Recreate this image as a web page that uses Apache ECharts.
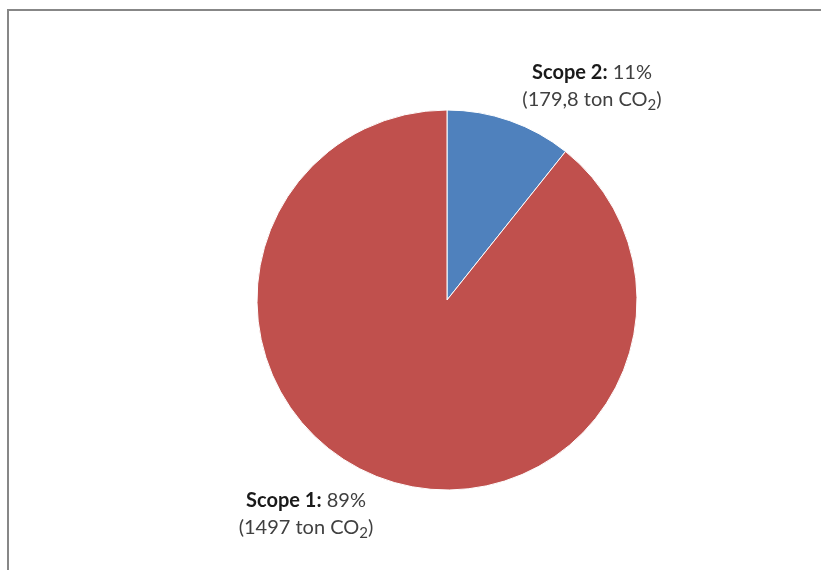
<!DOCTYPE html>
<html><head><meta charset="utf-8">
<script src="https://cdn.jsdelivr.net/npm/echarts@6/dist/echarts.min.js"></script>
<style>html,body{margin:0;padding:0;background:#fff}#c{width:821px;height:570px}</style>
</head><body><div id="c"></div>
<script>
const categories = ['Scope 2', 'Scope 1'];
const values = [179.8, 1497];
const colors = ['#4F81BD', '#C0504D'];
const labelPos = [[592, 86], [306, 514]];

const chart = echarts.init(document.getElementById('c'));
chart.setOption({
  animation: false,
  backgroundColor: '#fff',
  graphic: [
    {type: 'line', shape: {x1: 7, y1: 10, x2: 821, y2: 10}, style: {stroke: '#878787', lineWidth: 2}},
    {type: 'line', shape: {x1: 8, y1: 9, x2: 8, y2: 570}, style: {stroke: '#878787', lineWidth: 2}}
  ],
  series: [{
    type: 'pie',
    center: [447, 300],
    radius: 190,
    startAngle: 90,
    clockwise: true,
    itemStyle: {borderColor: '#fff', borderWidth: 1},
    labelLine: {show: false},
    label: {
      show: true,
      position: 'outside',
      fontFamily: 'Lato',
      fontSize: 20,
      color: '#404040',
      lineHeight: 27,
      formatter: function (p) {
        const v = String(p.value).replace('.', ',');
        return '{b|' + p.name + ':} {n|' + Math.round(p.percent) + '%}\n{n|(' + v + ' ton CO}{s|2}{n|)}';
      },
      rich: {
        b: {fontFamily: 'Lato', fontWeight: 'bold', fontSize: 20, color: '#1a1a1a', lineHeight: 27},
        n: {fontFamily: 'Lato', fontSize: 20, color: '#404040', lineHeight: 27},
        s: {fontFamily: 'Lato', fontSize: 15, color: '#404040', lineHeight: 25, verticalAlign: 'bottom'}
      }
    },
    labelLayout: function (params) {
      const pos = labelPos[params.dataIndex];
      return {x: pos[0], y: pos[1], align: 'center', verticalAlign: 'middle'};
    },
    data: categories.map((c, i) => ({name: c, value: values[i], itemStyle: {color: colors[i]}}))
  }]
});
</script></body></html>
